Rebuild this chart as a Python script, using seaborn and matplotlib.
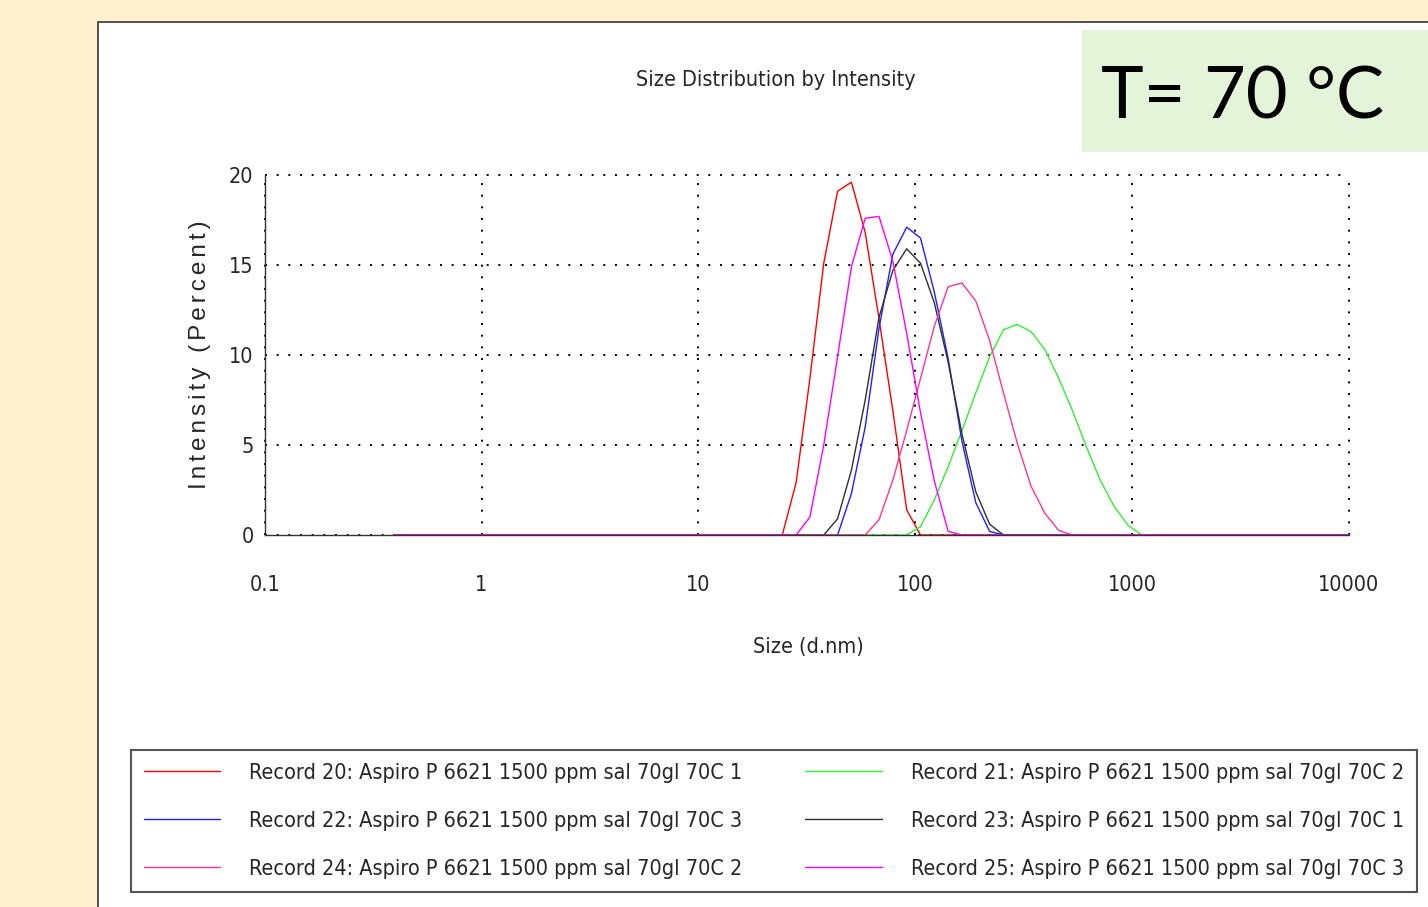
import matplotlib
matplotlib.use("Agg")
import matplotlib.pyplot as plt
from matplotlib.patches import Rectangle
from matplotlib.ticker import FixedLocator, LogLocator, AutoMinorLocator, FuncFormatter, NullFormatter
import seaborn as sns
import pandas as pd

# ---------------- data ----------------
size_nm = [0.4, 0.4632, 0.5365, 0.6213, 0.7195, 0.8332, 0.9649, 1.117, 1.294, 1.499,
           1.736, 2.010, 2.328, 2.696, 3.122, 3.615, 4.187, 4.849, 5.615, 6.503,
           7.531, 8.721, 10.10, 11.70, 13.54, 15.69, 18.17, 21.04, 24.36, 28.21,
           32.67, 37.84, 43.82, 50.75, 58.77, 68.06, 78.82, 91.28, 105.7, 122.4,
           141.8, 164.2, 190.1, 220.2, 255.0, 295.3, 342.0, 396.1, 458.7, 531.2,
           615.1, 712.4, 825.0, 955.4, 1106, 1281, 1484, 1718, 1990, 2305,
           2669, 3091, 3580, 4145, 4801, 5560, 6439, 7456, 8635, 10000]

rec20 = [0.0] * 29 + [2.9, 8.7, 15.1, 19.1, 19.6, 16.8, 12.0, 6.9, 1.4] + [0.0] * 32
rec21 = [0.0] * 38 + [0.46, 1.95, 3.8, 5.8, 7.9, 9.9, 11.4, 11.7, 11.3, 10.3,
                      8.7, 6.9, 4.9, 3.05, 1.6, 0.55] + [0.0] * 16
rec22 = [0.0] * 33 + [2.3, 6.0, 11.5, 15.6, 17.1, 16.5, 13.5, 9.8, 5.2, 1.8, 0.2] + [0.0] * 26
rec23 = [0.0] * 32 + [0.9, 3.6, 7.5, 12.1, 14.7, 15.9, 15.1, 12.9, 9.6, 5.6, 2.4, 0.6] + [0.0] * 26
rec24 = [0.0] * 35 + [0.85, 3.05, 5.8, 8.7, 11.6, 13.8, 14.0, 13.0, 10.8, 7.9,
                      5.1, 2.7, 1.2, 0.25] + [0.0] * 21
rec25 = [0.0] * 30 + [1.0, 5.0, 9.9, 14.9, 17.6, 17.7, 15.2, 11.2, 6.8, 3.0, 0.2] + [0.0] * 29

labels = ["Record 20: Aspiro P 6621 1500 ppm sal 70gl 70C 1",
          "Record 21: Aspiro P 6621 1500 ppm sal 70gl 70C 2",
          "Record 22: Aspiro P 6621 1500 ppm sal 70gl 70C 3",
          "Record 23: Aspiro P 6621 1500 ppm sal 70gl 70C 1",
          "Record 24: Aspiro P 6621 1500 ppm sal 70gl 70C 2",
          "Record 25: Aspiro P 6621 1500 ppm sal 70gl 70C 3"]
series = [rec20, rec21, rec22, rec23, rec24, rec25]
colors = ["#FF0000", "#33EE33", "#2020FF", "#303030", "#FF3399", "#FF00FF"]

x_ticks = [0.1, 1, 10, 100, 1000, 10000]
y_ticks = [0, 5, 10, 15, 20]

# ---------------- build frame ----------------
rows = []
for lab, vals in zip(labels, series):
    for s, v in zip(size_nm, vals):
        rows.append({"size": s, "intensity": v, "record": lab})
df = pd.DataFrame(rows)

sns.set_style("white")
narrow = ["DejaVu Sans"]
nst = "condensed"
FS = 15.5
plt.rcParams["font.family"] = ["Liberation Sans", "DejaVu Sans"]

W, H = 1428, 907
fig = plt.figure(figsize=(W / 100, H / 100), dpi=100)
fig.patch.set_facecolor("#FFF0CF")

# white panel with dark top/left border
fig.patches.append(Rectangle((98 / W, -0.2), 1.2, 1.2 - 22 / H,
                             transform=fig.transFigure, facecolor="white",
                             edgecolor="#333333", linewidth=1.2, zorder=-10))
# green temperature box
fig.patches.append(Rectangle((1082 / W, 1 - 152 / H), (W - 1082) / W, 122 / H,
                             transform=fig.transFigure, facecolor="#E3F4D9",
                             edgecolor="none", zorder=-5))
fig.text(1101 / W, 1 - 98 / H, "T= 70 °C", fontsize=52, family=["Lato", "DejaVu Sans"],
         ha="left", va="center", color="black")

x0, x1 = 264.7, 1349.0
y0, y1 = 535.0, 175.0
ax = fig.add_axes([x0 / W, 1 - y0 / H, (x1 - x0) / W, (y0 - y1) / H])
ax.set_facecolor("none")

sns.lineplot(data=df, x="size", y="intensity", hue="record", hue_order=labels,
             palette=dict(zip(labels, colors)), estimator=None, sort=False,
             linewidth=1.0, ax=ax, legend=True)

ax.set_xscale("log")
ax.set_xlim(0.1, 10000)
ax.set_ylim(0, 20)

ax.xaxis.set_major_locator(FixedLocator(x_ticks))
ax.xaxis.set_major_formatter(FuncFormatter(lambda v, p: ("%g" % v)))
ax.xaxis.set_minor_locator(LogLocator(base=10, subs=range(2, 10)))
ax.xaxis.set_minor_formatter(NullFormatter())
ax.yaxis.set_major_locator(FixedLocator(y_ticks))
ax.yaxis.set_minor_locator(AutoMinorLocator(2))

for sp in ["top", "right"]:
    ax.spines[sp].set_visible(False)
for sp in ["left", "bottom"]:
    ax.spines[sp].set_color("#333333")
    ax.spines[sp].set_linewidth(1.0)

ax.tick_params(axis="x", which="major", direction="inout", length=14, width=1.0,
               color="#333333", pad=22, labelsize=FS)
ax.tick_params(axis="x", which="minor", direction="inout", length=8, width=1.0,
               color="#333333")
ax.tick_params(axis="y", which="major", direction="inout", length=10, width=1.0,
               color="#333333", pad=3, labelsize=FS)
ax.tick_params(axis="y", which="minor", direction="inout", length=10, width=1.0,
               color="#333333")
for lbl in ax.get_xticklabels() + ax.get_yticklabels():
    lbl.set_family(narrow)
    lbl.set_stretch(nst)

ax.grid(True, which="major", color="black", linestyle=(0, (1, 5)), linewidth=1.4)
for gl in ax.get_xgridlines() + ax.get_ygridlines():
    gl.set_clip_on(False)
ax.set_axisbelow(True)

ax.set_title("Size Distribution by Intensity", family=narrow, fontsize=FS, stretch=nst,
             x=0.4716, y=1.264, va="center", pad=0)

ax.set_xlabel("Size (d.nm)", family=narrow, fontsize=FS, stretch=nst)
ax.xaxis.set_label_coords(0.501, -0.311)
ax.xaxis.label.set_va("center")
ylab = "\u200a\u200a".join("Intensity (Percent)")
ax.set_ylabel(ylab, fontsize=17.5, family=["Liberation Sans", "DejaVu Sans"])
ax.yaxis.set_label_coords(-0.0597, 0.5)
ax.yaxis.label.set_va("center")

handles, labs = ax.get_legend_handles_labels()
hmap = dict(zip(labs, handles))
order = [labels[0], labels[2], labels[4], labels[1], labels[3], labels[5]]
leg = ax.legend([hmap[l] for l in order], order, ncol=2, loc="upper left",
                bbox_to_anchor=(131 / W, 1 - 750 / H), bbox_transform=fig.transFigure,
                borderaxespad=0, frameon=True, fancybox=False, framealpha=1,
                edgecolor="#555555", handlelength=3.55, handletextpad=1.35,
                columnspacing=2.9, labelspacing=1.3, borderpad=0.6,
                prop={"family": narrow, "size": FS, "stretch": nst})
leg.get_frame().set_linewidth(1.5)
for ln in leg.get_lines():
    ln.set_linewidth(1.0)

fig.savefig("out.png", dpi=100, facecolor=fig.get_facecolor())
